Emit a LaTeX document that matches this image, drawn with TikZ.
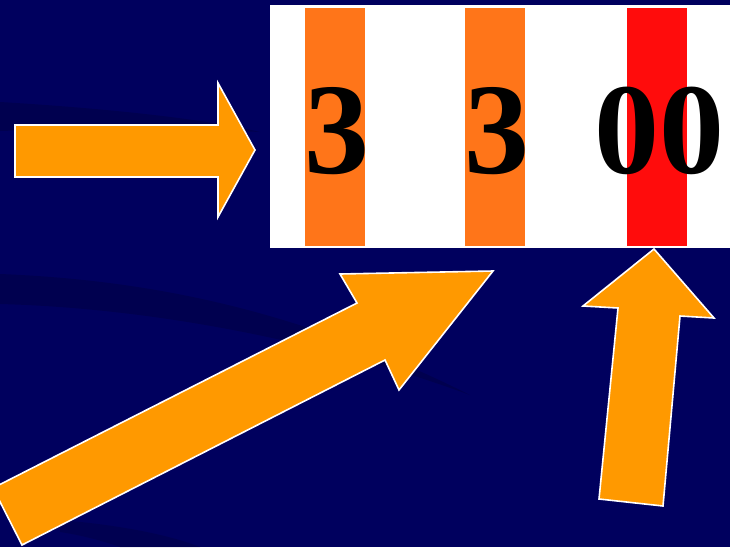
\documentclass[tikz,border=0pt]{standalone}
\usepackage{fontspec}
\setmainfont{Liberation Serif}
\definecolor{navy}{RGB}{0,0,94}
\definecolor{navydark}{RGB}{0,0,70}
\definecolor{arroworange}{RGB}{255,153,0}
\definecolor{stripeorange}{RGB}{255,117,25}
\definecolor{stripered}{RGB}{255,12,12}
\tikzset{
  bigarrow/.style={fill=arroworange, draw=white, line width=1.6pt, line join=miter},
  stripe/.style={inner sep=0pt, minimum width=60pt, minimum height=238pt},
  digit/.style={anchor=base, inner sep=0pt, font=\fontsize{130}{130}\selectfont\bfseries, text=black},
  swoosh/.style={fill=navydark, draw=none}
}
\begin{document}
\begin{tikzpicture}[x=1pt,y=-1pt]
\useasboundingbox (0,0) rectangle (730,547);
\begin{scope}
\clip (0,0) rectangle (730,547);
\fill[navy] (0,0) rectangle (730,547);
% subtle darker swooshes
\fill[swoosh, opacity=0.6] (0,102) .. controls (100,108) and (200,118) .. (260,132) .. controls (180,128) and (90,128) .. (0,131) -- cycle;
\fill[swoosh, opacity=0.6] (0,274) .. controls (150,280) and (300,310) .. (470,395) .. controls (320,340) and (150,308) .. (0,304) -- cycle;
\fill[swoosh, opacity=0.5] (60,520) .. controls (120,525) and (170,535) .. (200,547) -- (120,547) .. controls (100,540) and (80,535) .. (60,532) -- cycle;

% white panel and stripes
\node[fill=white, inner sep=0pt, anchor=north west, minimum width=470pt, minimum height=243pt] (panel) at (270,5) {};
\node[stripe, fill=stripeorange, anchor=north west] (s1) at (305,8) {};
\node[stripe, fill=stripeorange, anchor=north west] (s2) at (465,8) {};
\node[stripe, fill=stripered, anchor=north west] (s3) at (627,8) {};
\node[digit] (d1) at (337,173) {3};
\node[digit] (d2) at (497,173) {3};
\node[digit] (d3) at (659,173) {00};

% arrows
\draw[bigarrow] (15,125) -- (218,125) -- (218,83) -- (255,150) -- (218,217) -- (218,177) -- (15,177) -- cycle;
\draw[bigarrow] (-7,488) -- (357,303) -- (340,274) -- (493,271) -- (399,390) -- (385,360) -- (22,545) -- cycle;
\draw[bigarrow] (599,499) -- (618,308) -- (583,306) -- (654,249) -- (714,318) -- (680,316) -- (663,506) -- cycle;
\end{scope}
\end{tikzpicture}
\end{document}
